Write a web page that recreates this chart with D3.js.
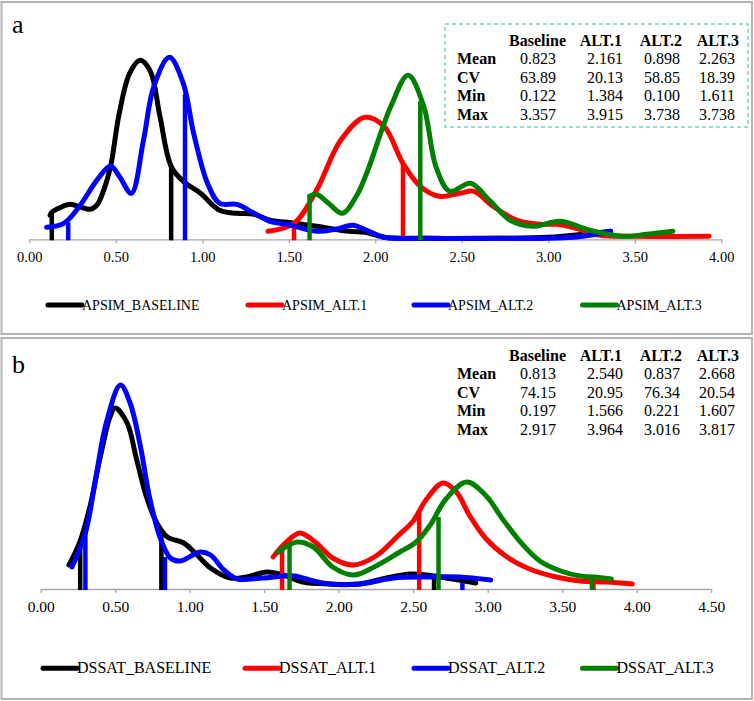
<!DOCTYPE html>
<html>
<head>
<meta charset="utf-8">
<script src="https://cdn.jsdelivr.net/npm/d3@7"></script>
<style>
  html, body { margin: 0; padding: 0; background: #fff; }
  svg { display: block; }
  text { font-family: "Liberation Serif", "Times New Roman", serif; fill: #000; }
</style>
</head>
<body>
<svg id="chart" width="754" height="701"></svg>
<script>
// ---------------- DATA ----------------
// Panel a (APSIM): [yield value, density]
const apsimBaseline = [[0.12,0.24],[0.13,0.27],[0.17,0.31],[0.235,0.35],[0.30,0.32],[0.35,0.30],[0.39,0.34],[0.43,0.49],[0.47,0.73],[0.52,1.26],[0.58,1.66],[0.64,1.79],[0.70,1.68],[0.755,1.23],[0.82,0.73],[0.89,0.58],[0.99,0.46],[1.10,0.29],[1.20,0.26],[1.30,0.25],[1.39,0.19],[1.49,0.17],[1.66,0.13],[1.85,0.08],[1.94,0.07],[2.05,0.02],[2.30,0.01],[2.70,0.01],[3.00,0.02],[3.20,0.05],[3.36,0.08]];
const apsimAlt1 = [[1.38,0.08],[1.53,0.16],[1.66,0.49],[1.80,0.99],[1.94,1.22],[2.05,1.13],[2.16,0.76],[2.26,0.53],[2.37,0.43],[2.49,0.46],[2.57,0.48],[2.68,0.33],[2.82,0.19],[2.95,0.15],[3.05,0.15],[3.16,0.11],[3.30,0.04],[3.50,0.03],[3.93,0.03]];
const apsimAlt2 = [[0.10,0.12],[0.20,0.16],[0.29,0.33],[0.39,0.59],[0.47,0.73],[0.52,0.63],[0.59,0.46],[0.66,0.99],[0.72,1.53],[0.81,1.82],[0.89,1.56],[0.95,1.06],[1.03,0.56],[1.10,0.36],[1.20,0.35],[1.30,0.26],[1.39,0.18],[1.49,0.15],[1.66,0.08],[1.77,0.10],[1.87,0.14],[1.95,0.09],[2.05,0.02],[2.30,0.01],[2.70,0.01],[3.00,0.01],[3.20,0.03],[3.36,0.08]];
const apsimAlt3 = [[1.62,0.43],[1.66,0.45],[1.73,0.36],[1.81,0.26],[1.89,0.43],[1.95,0.66],[2.09,1.33],[2.19,1.64],[2.28,1.33],[2.35,0.73],[2.43,0.48],[2.55,0.56],[2.66,0.39],[2.78,0.19],[2.91,0.13],[3.07,0.18],[3.24,0.09],[3.43,0.03],[3.57,0.05],[3.72,0.08]];
// vertical markers [value, height]
const apsimMarkBaseline = [[0.13,0.26],[0.82,0.73]];
const apsimMarkAlt1 = [[1.53,0.16],[2.16,0.76]];
const apsimMarkAlt2 = [[0.225,0.17],[0.90,1.45]];
const apsimMarkAlt3 = [[1.62,0.43],[2.26,1.38]];

// Panel b (DSSAT)
const dssatBaseline = [[0.19,0.24],[0.26,0.46],[0.33,0.82],[0.40,1.32],[0.465,1.72],[0.50,1.81],[0.58,1.66],[0.64,1.32],[0.71,0.92],[0.78,0.66],[0.85,0.52],[0.96,0.46],[1.05,0.34],[1.14,0.21],[1.27,0.11],[1.38,0.12],[1.52,0.17],[1.63,0.14],[1.76,0.07],[1.94,0.05],[2.14,0.05],[2.32,0.11],[2.48,0.15],[2.59,0.14],[2.72,0.11],[2.92,0.06]];
const dssatAlt1 = [[1.56,0.32],[1.65,0.47],[1.74,0.56],[1.85,0.46],[1.96,0.31],[2.10,0.24],[2.25,0.33],[2.39,0.52],[2.50,0.68],[2.59,0.90],[2.70,1.06],[2.79,0.97],[2.88,0.73],[2.99,0.50],[3.13,0.32],[3.28,0.20],[3.46,0.12],[3.62,0.08],[3.80,0.07],[3.97,0.05]];
const dssatAlt2 = [[0.21,0.22],[0.30,0.56],[0.375,1.16],[0.44,1.66],[0.535,2.04],[0.60,1.86],[0.67,1.42],[0.73,0.92],[0.80,0.52],[0.87,0.31],[0.935,0.28],[1.07,0.37],[1.14,0.34],[1.23,0.19],[1.32,0.10],[1.49,0.11],[1.70,0.13],[1.83,0.08],[1.94,0.05],[2.14,0.05],[2.37,0.11],[2.59,0.12],[2.81,0.12],[3.02,0.09]];
const dssatAlt3 = [[1.595,0.37],[1.72,0.47],[1.83,0.42],[1.96,0.22],[2.10,0.14],[2.25,0.23],[2.41,0.37],[2.52,0.47],[2.61,0.63],[2.72,0.90],[2.86,1.07],[2.99,0.93],[3.10,0.70],[3.22,0.47],[3.35,0.28],[3.49,0.18],[3.62,0.13],[3.71,0.12],[3.83,0.10]];
const dssatMarkBaseline = [[0.265,0.45],[0.81,0.58],[2.64,0.10]];
const dssatMarkAlt1 = [[1.62,0.44],[2.54,0.77],[3.71,0.08]];
const dssatMarkAlt2 = [[0.30,0.56],[0.834,0.32],[2.83,0.06]];
const dssatMarkAlt3 = [[1.67,0.46],[2.67,0.72],[3.70,0.12]];

const seriesColors = ["#000000", "#ff0000", "#0000ff", "#008000"];
const apsimNames = ["APSIM_BASELINE", "APSIM_ALT.1", "APSIM_ALT.2", "APSIM_ALT.3"];
const dssatNames = ["DSSAT_BASELINE", "DSSAT_ALT.1", "DSSAT_ALT.2", "DSSAT_ALT.3"];

const ticksA = [0, 0.5, 1, 1.5, 2, 2.5, 3, 3.5, 4];
const ticksB = [0, 0.5, 1, 1.5, 2, 2.5, 3, 3.5, 4, 4.5];

const statCols = ["Baseline", "ALT.1", "ALT.2", "ALT.3"];
const statRows = ["Mean", "CV", "Min", "Max"];
const apsimStats = [["0.823","2.161","0.898","2.263"],["63.89","20.13","58.85","18.39"],["0.122","1.384","0.100","1.611"],["3.357","3.915","3.738","3.738"]];
const dssatStats = [["0.813","2.540","0.837","2.668"],["74.15","20.95","76.34","20.54"],["0.197","1.566","0.221","1.607"],["2.917","3.964","3.016","3.817"]];

// ---------------- DRAW ----------------
const svg = d3.select("#chart");
svg.append("rect").attr("width", 754).attr("height", 701).attr("fill", "#fff");

function drawPanel(cfg) {
  const g = svg.append("g");
  g.append("rect").attr("x", 1.5).attr("y", cfg.boxTop).attr("width", 750.5).attr("height", cfg.boxH)
    .attr("fill", "none").attr("stroke", "#b3b3b3").attr("stroke-width", 2);
  g.append("text").attr("x", 12).attr("y", cfg.letterY).attr("font-size", 26).text(cfg.letter);

  const x = d3.scaleLinear().domain(cfg.xDomain).range(cfg.xRange);
  const y = d3.scaleLinear().domain([0, 2]).range([cfg.axisY, cfg.axisY - 200]);

  const axis = d3.axisBottom(x).tickValues(cfg.ticks).tickFormat(d3.format(".2f"))
    .tickSizeInner(4).tickSizeOuter(0).tickPadding(8);
  const ag = g.append("g").attr("transform", `translate(0,${cfg.axisY})`).call(axis);
  ag.select(".domain").attr("stroke", "#a6a6a6").attr("stroke-width", 1.3);
  ag.selectAll(".tick line").attr("stroke", "#a6a6a6").attr("stroke-width", 1.3);
  ag.selectAll(".tick text").attr("font-size", cfg.tickFont)
    .attr("font-family", '"Liberation Serif", "Times New Roman", serif').attr("fill", "#000");

  const line = d3.line().x(d => x(d[0])).y(d => y(d[1])).curve(d3.curveCatmullRom.alpha(0.5));

  cfg.series.forEach((s, i) => {
    const col = seriesColors[i];
    g.append("g").selectAll("line").data(cfg.marks[i]).join("line")
      .attr("x1", d => x(d[0])).attr("x2", d => x(d[0]))
      .attr("y1", y(0) + 1).attr("y2", d => y(d[1]))
      .attr("stroke", col).attr("stroke-width", 4.5);
    g.append("path").datum(s).attr("d", line).attr("fill", "none")
      .attr("stroke", col).attr("stroke-width", 5).attr("stroke-linecap", "round").attr("stroke-linejoin", "round");
  });

  const lg = g.append("g");
  cfg.names.forEach((n, i) => {
    const lx = cfg.legendX[i];
    lg.append("line").attr("x1", lx).attr("x2", lx + 34).attr("y1", cfg.legendY).attr("y2", cfg.legendY)
      .attr("stroke", seriesColors[i]).attr("stroke-width", 5).attr("stroke-linecap", "round");
    lg.append("text").attr("x", lx + 34).attr("y", cfg.legendY + 5).attr("font-size", cfg.legendFont).text(n);
  });

  const tg = g.append("g");
  if (cfg.tableBox) {
    tg.append("rect").attr("x", 445).attr("y", cfg.tableBox[0]).attr("width", 303).attr("height", cfg.tableBox[1])
      .attr("fill", "#fff").attr("stroke", "#6fd6c4").attr("stroke-width", 1.5).attr("stroke-dasharray", "4,3");
  }
  const headEnd = [566, 622, 682, 739];
  const valEnd = [556, 623, 680, 735];
  const rowH = 18.5;
  statCols.forEach((c, j) => {
    tg.append("text").attr("x", headEnd[j]).attr("y", cfg.tableY).attr("text-anchor", "end")
      .attr("font-size", 16).attr("font-weight", "bold").text(c);
  });
  statRows.forEach((r, k) => {
    const ty = cfg.tableY + rowH * (k + 1);
    tg.append("text").attr("x", 457).attr("y", ty).attr("font-size", 16).attr("font-weight", "bold").text(r);
    cfg.stats[k].forEach((v, j) => {
      tg.append("text").attr("x", valEnd[j]).attr("y", ty).attr("text-anchor", "end").attr("font-size", 16).text(v);
    });
  });
}

drawPanel({
  boxTop: 2, boxH: 332, letter: "a", letterY: 32.5,
  xDomain: [0, 4], xRange: [29.3, 721.3], axisY: 239.3, ticks: ticksA, tickFont: 14.5,
  series: [apsimBaseline, apsimAlt1, apsimAlt2, apsimAlt3],
  marks: [apsimMarkBaseline, apsimMarkAlt1, apsimMarkAlt2, apsimMarkAlt3],
  names: apsimNames, legendX: [48, 248, 414, 582.5], legendY: 305, legendFont: 14,
  tableBox: [24, 103], tableY: 45.5, stats: apsimStats
});

drawPanel({
  boxTop: 338, boxH: 361, letter: "b", letterY: 373,
  xDomain: [0, 4.5], xRange: [40.7, 711.2], axisY: 589, ticks: ticksB, tickFont: 15.5,
  series: [dssatBaseline, dssatAlt1, dssatAlt2, dssatAlt3],
  marks: [dssatMarkBaseline, dssatMarkAlt1, dssatMarkAlt2, dssatMarkAlt3],
  names: dssatNames, legendX: [43, 245, 414, 582.5], legendY: 668.3, legendFont: 16,
  tableBox: null, tableY: 360.5, stats: dssatStats
});
</script>
</body>
</html>
